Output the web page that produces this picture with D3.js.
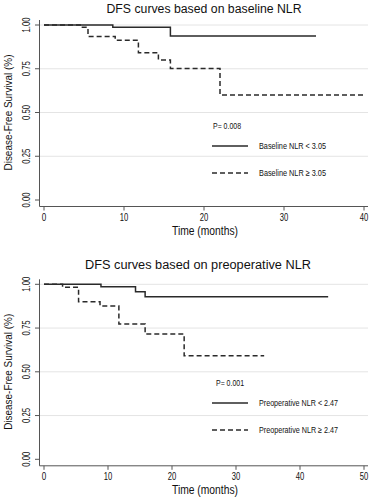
<!DOCTYPE html>
<html>
<head>
<meta charset="utf-8">
<script src="https://cdn.jsdelivr.net/npm/d3@7"></script>
<style>
	body { margin: 0; background: #fff; }
	svg { display: block; }
	text { font-family: "Liberation Sans", Arial, sans-serif; fill: #111; }
</style>
</head>
<body>
<div class="dfs"></div>
<script>
// ---- data ----

// baseline NLR panel
const baseLowTimes = [0, 8.6, 15.8];
const baseLowSurv = [1, 0.987, 0.937];
const baseLowEnd = 34;
const baseHighTimes = [0, 4.8, 5.5, 8.9, 11.8, 14.3, 15.8, 22];
const baseHighSurv = [1, 0.987, 0.935, 0.913, 0.842, 0.80, 0.752, 0.60];
const baseHighEnd = 40;
const baseXTicks = [0, 10, 20, 30, 40];

// preoperative NLR panel
const preLowTimes = [0, 8.9, 14.3, 15.8];
const preLowSurv = [1, 0.986, 0.958, 0.929];
const preLowEnd = 44.4;
const preHighTimes = [0, 2.9, 5.4, 8.75, 11.7, 15.8, 21.9];
const preHighSurv = [1, 0.983, 0.90, 0.876, 0.773, 0.716, 0.592];
const preHighEnd = 34.4;
const preXTicks = [0, 10, 20, 30, 40, 50];

const yTicks = [0, 0.25, 0.5, 0.75, 1];
const yTickLabels = ["0.00", "0.25", "0.50", "0.75", "1.00"];

const svg = d3.select(".dfs")
	.append("svg")
	.attr("width", 372)
	.attr("height", 500);

function toPoints(times, surv, end) {
	const pts = times.map((t, i) => ({ t, s: surv[i] }));
	pts.push({ t: end, s: surv[surv.length - 1] });
	return pts;
}

function drawPanel(cfg) {
	const g = svg.append("g");
	const x = d3.scaleLinear().domain([0, cfg.xMax]).range([44, 364]);
	const y = d3.scaleLinear().domain([0, 1]).range([cfg.y0, cfg.y0 - 175]);
	const axisY = cfg.y0 + 6.5;

	// title
	g.append("text")
		.text(cfg.title)
		.attr("x", cfg.titleX)
		.attr("y", cfg.titleY)
		.attr("text-anchor", "middle")
		.attr("font-size", 12.5)
		.attr("textLength", cfg.titleLen)
		.attr("lengthAdjust", "spacingAndGlyphs");

	// grid
	g.selectAll(".grid")
		.data(yTicks.filter((d) => d > 0)).enter()
		.append("line")
		.attr("x1", 40).attr("x2", 368)
		.attr("y1", (d) => y(d)).attr("y2", (d) => y(d))
		.attr("stroke", "#e4e4e4")
		.attr("stroke-width", 1);

	// axes
	g.append("line")
		.attr("x1", 39.5).attr("x2", 39.5)
		.attr("y1", y(1) - 5).attr("y2", axisY)
		.attr("stroke", "#555");
	g.append("line")
		.attr("x1", 39.5).attr("x2", 368)
		.attr("y1", axisY).attr("y2", axisY)
		.attr("stroke", "#555");

	g.selectAll(".ytick")
		.data(yTicks).enter()
		.append("line")
		.attr("x1", 35).attr("x2", 39.5)
		.attr("y1", (d) => y(d)).attr("y2", (d) => y(d))
		.attr("stroke", "#555");

	g.selectAll(".ylab")
		.data(yTicks).enter()
		.append("text")
		.text((d, i) => yTickLabels[i])
		.attr("transform", (d) => `translate(30,${y(d)}) rotate(-90)`)
		.attr("text-anchor", "middle")
		.attr("font-size", 10)
		.attr("textLength", 15)
		.attr("lengthAdjust", "spacingAndGlyphs");

	g.selectAll(".xtick")
		.data(cfg.xTicks).enter()
		.append("line")
		.attr("x1", (d) => x(d)).attr("x2", (d) => x(d))
		.attr("y1", axisY).attr("y2", axisY + 4)
		.attr("stroke", "#555");

	g.selectAll(".xlab")
		.data(cfg.xTicks).enter()
		.append("text")
		.text((d) => d)
		.attr("x", (d) => x(d))
		.attr("y", axisY + 14)
		.attr("text-anchor", "middle")
		.attr("font-size", 10.5)
		.attr("textLength", (d) => (d < 10 ? 4.5 : 8.5))
		.attr("lengthAdjust", "spacingAndGlyphs");

	g.append("text")
		.text("Time (months)")
		.attr("x", 205)
		.attr("y", axisY + cfg.xTitleOff)
		.attr("text-anchor", "middle")
		.attr("font-size", 12)
		.attr("textLength", 66)
		.attr("lengthAdjust", "spacingAndGlyphs");

	g.append("text")
		.text("Disease-Free Survival (%)")
		.attr("transform", `translate(12,${y(0.5)}) rotate(-90)`)
		.attr("text-anchor", "middle")
		.attr("font-size", 11.5)
		.attr("textLength", 116)
		.attr("lengthAdjust", "spacingAndGlyphs");

	// curves
	const line = d3.line()
		.x((d) => x(d.t))
		.y((d) => y(d.s))
		.curve(d3.curveStepAfter);

	cfg.curves.forEach((c) => {
		g.append("path")
			.attr("d", line(c.pts))
			.attr("fill", "none")
			.attr("stroke", "#2a2a2a")
			.attr("stroke-width", 1.5)
			.attr("stroke-dasharray", c.dashed ? "5,3" : null);
	});

	// legend
	g.append("text")
		.text(cfg.pText)
		.attr("x", cfg.pX)
		.attr("y", cfg.legY - 17)
		.attr("font-size", 9)
		.attr("textLength", 28)
		.attr("lengthAdjust", "spacingAndGlyphs");

	cfg.curves.forEach((c, i) => {
		const ly = cfg.legY + i * 27;
		g.append("line")
			.attr("x1", 212).attr("x2", 248)
			.attr("y1", ly).attr("y2", ly)
			.attr("stroke", "#2a2a2a")
			.attr("stroke-width", 1.5)
			.attr("stroke-dasharray", c.dashed ? "5,3" : null);
		g.append("text")
			.text(c.label)
			.attr("x", 259)
			.attr("y", ly + 3)
			.attr("font-size", 9)
			.attr("textLength", cfg.legLen)
			.attr("lengthAdjust", "spacingAndGlyphs");
	});
}

drawPanel({
	title: "DFS curves based on baseline NLR",
	titleX: 204, titleY: 12.5, titleLen: 195,
	xMax: 40, xTicks: baseXTicks, y0: 200, xTitleOff: 28,
	pText: "P= 0.008", pX: 213, legY: 146, legLen: 67,
	curves: [
		{ pts: toPoints(baseLowTimes, baseLowSurv, baseLowEnd), dashed: false, label: "Baseline NLR < 3.05" },
		{ pts: toPoints(baseHighTimes, baseHighSurv, baseHighEnd), dashed: true, label: "Baseline NLR \u2265 3.05" }
	]
});

drawPanel({
	title: "DFS curves based on preoperative NLR",
	titleX: 198, titleY: 269, titleLen: 226,
	xMax: 50, xTicks: preXTicks, y0: 459.3, xTitleOff: 28.5,
	pText: "P= 0.001", pX: 216, legY: 403, legLen: 79,
	curves: [
		{ pts: toPoints(preLowTimes, preLowSurv, preLowEnd), dashed: false, label: "Preoperative NLR < 2.47" },
		{ pts: toPoints(preHighTimes, preHighSurv, preHighEnd), dashed: true, label: "Preoperative NLR \u2265 2.47" }
	]
});
</script>
</body>
</html>
